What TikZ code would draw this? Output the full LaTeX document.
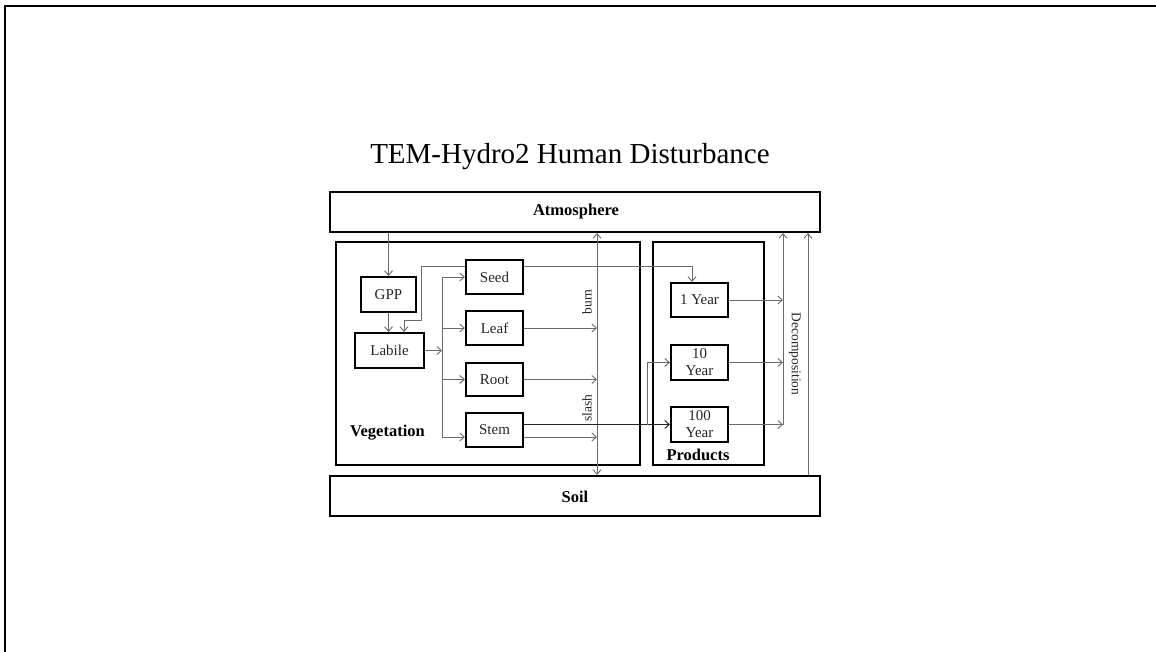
\documentclass[tikz,border=0pt]{standalone}
\usepackage{fontspec}
\setmainfont{Liberation Serif}
\usetikzlibrary{arrows.meta}
\definecolor{arrgray}{HTML}{6A6A6A}
\definecolor{txtgray}{HTML}{262626}
\tikzset{
  box/.style={draw=black, line width=2.2pt, fill=white, inner sep=0pt, align=center, font=\fontsize{15}{17}\selectfont, text=txtgray},
  bigbox/.style={draw=black, line width=2.2pt, fill=white, inner sep=0pt},
  arr/.style={draw=arrgray, line width=0.9pt, -{Straight Barb[length=4.5pt,width=8pt]}},
  darr/.style={draw=arrgray, line width=0.9pt, {Straight Barb[length=4.5pt,width=8pt]}-{Straight Barb[length=4.5pt,width=8pt]}},
  ln/.style={draw=arrgray, line width=0.9pt},
  lbl/.style={font=\fontsize{13.5}{15}\selectfont, text=txtgray, inner sep=0pt},
  blbl/.style={font=\fontsize{16.5}{18}\selectfont\bfseries, text=black, inner sep=0pt}
}
\begin{document}
\begin{tikzpicture}[x=1pt,y=-1pt]
\useasboundingbox (0,0) rectangle (1156,652);
\draw[line width=2.5pt] (5,652) -- (5,6) -- (1156,6);

\node[font=\fontsize{29}{33}\selectfont, text=black] (title) at (570,157) {TEM-Hydro2 Human Disturbance};

% big boxes
\node[bigbox, minimum width=490pt, minimum height=40pt] (atm) at (575,212) {};
\node[blbl] (atmt) at (576,212) {Atmosphere};
\node[bigbox, minimum width=490pt, minimum height=40pt] (soil) at (575,496) {};
\node[blbl] (soilt) at (575,497) {Soil};
\node[bigbox, minimum width=304pt, minimum height=223pt] (veg) at (488,353.5) {};
\node[bigbox, minimum width=111pt, minimum height=223pt] (prod) at (708.5,353.5) {};
\node[blbl] (vegt) at (387.5,433) {Vegetation};
\node[blbl] (prodt) at (698,455) {Products};

% coordinates of vertical lines
\coordinate (bx) at (442,0);
\coordinate (vx) at (597,0);
\coordinate (px) at (647,0);
\coordinate (dx) at (783,0);
\coordinate (sx) at (808,0);

% connectors drawn first (boxes cover them)
\draw[ln] (bx |- 0,277) -- (bx |- 0,437);

% small boxes
\node[box, minimum width=55pt, minimum height=35pt] (gpp) at (388.5,294.5) {GPP};
\node[box, minimum width=69pt, minimum height=35pt] (labile) at (389.5,350.5) {Labile};
\node[box, minimum width=57pt, minimum height=34pt] (seed) at (494.5,277) {Seed};
\node[box, minimum width=57pt, minimum height=34pt] (leaf) at (494.5,328) {Leaf};
\node[box, minimum width=57pt, minimum height=33pt] (root) at (494.5,379.5) {Root};
\node[box, minimum width=57pt, minimum height=34pt] (stem) at (494.5,430) {Stem};
\node[box, minimum width=57pt, minimum height=34pt] (y1) at (699.5,300) {1 Year};
\node[box, minimum width=57pt, minimum height=35pt] (y10) at (699.5,362.5) {10\\Year};
\node[box, minimum width=57pt, minimum height=35pt] (y100) at (699.5,424.5) {100\\Year};

% atmosphere -> GPP -> Labile
\draw[arr] (atm.south -| gpp.north) -- (gpp.north);
\draw[arr] (gpp.south) -- (gpp.south |- labile.north);
% seed -> labile, seed -> 1 year
\draw[arr] ([yshift=11pt]seed.west) -- ++(-43,0) |- ([xshift=14.5pt,yshift=11pt]labile.north) -- ([xshift=14.5pt]labile.north);
\draw[arr] ([yshift=11pt]seed.east) -| ([xshift=-7.5pt]y1.north);
% labile -> allocation
\draw[arr] (labile.east) -- (bx |- labile.east);
\draw[arr] (bx |- seed.west) -- (seed.west);
\draw[arr] (bx |- leaf.west) -- (leaf.west);
\draw[arr] (bx |- root.west) -- (root.west);
\draw[arr] (bx |- 0,437) -- ([yshift=-7pt]stem.west);
% to burn/slash line
\draw[arr] (leaf.east) -- (vx |- leaf.east);
\draw[arr] (root.east) -- (vx |- root.east);
\draw[arr] ([yshift=-7pt]stem.east) -- (vx |- 0,437);
\draw[darr] (vx |- atm.south) -- (vx |- soil.north);
\node[lbl, rotate=90] (burn) at (587,302) {burn};
\node[lbl, rotate=90] (slash) at (587,408) {slash};
% stem -> products
\draw[arr, draw=black!85] (stem.east |- y100.west) -- (y100.west);
\draw[arr] (px |- y100.west) |- (y10.west);
% decomposition
\draw[arr] (y1.east) -- (dx |- y1.east);
\draw[arr] (y10.east) -- (dx |- y10.east);
\draw[arr] (y100.east) -- (dx |- y100.east);
\draw[arr] (dx |- y100.east) -- (dx |- atm.south);
\node[lbl, rotate=-90] (decomp) at (795,354) {Decomposition};
% soil -> atmosphere
\draw[arr] (sx |- soil.north) -- (sx |- atm.south);
\end{tikzpicture}
\end{document}
